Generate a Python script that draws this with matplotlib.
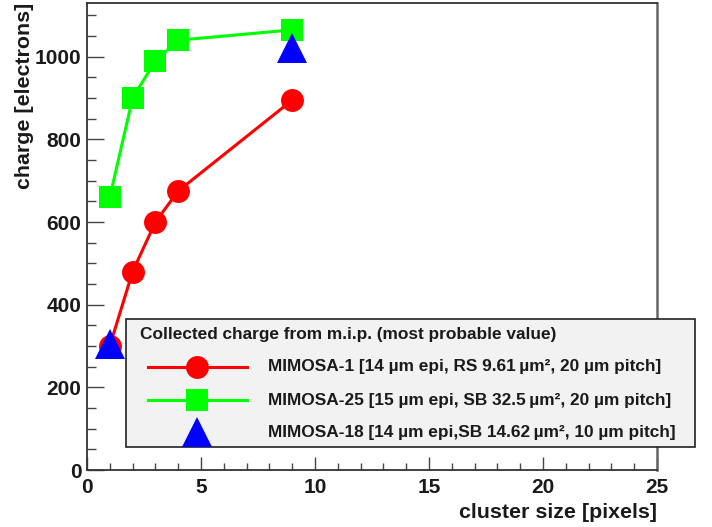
import matplotlib.pyplot as plt
from matplotlib.lines import Line2D
from matplotlib.patches import Rectangle
from matplotlib.ticker import MultipleLocator

plt.rcParams['font.family'] = ['Liberation Sans', 'DejaVu Sans']
plt.rcParams['font.weight'] = 'bold'

W, H = 712, 527

# cluster size [pixels] vs collected charge [electrons]
m1_x = [1, 2, 3, 4, 9]
m1_y = [300, 480, 600, 675, 895]
m25_x = [1, 2, 3, 4, 9]
m25_y = [660, 900, 990, 1040, 1065]
m18_x = [1, 9]
m18_y = [305, 1020]

legend_title = "Collected charge from m.i.p. (most probable value)"
labels = [
    "MIMOSA-1 [14 \u00b5m epi, RS 9.61\u2009\u00b5m\u00b2, 20 \u00b5m pitch]",
    "MIMOSA-25 [15 \u00b5m epi, SB 32.5\u2009\u00b5m\u00b2, 20 \u00b5m pitch]",
    "MIMOSA-18 [14 \u00b5m epi,SB 14.62\u2009\u00b5m\u00b2, 10 \u00b5m pitch]",
]

styles = [
    dict(color="#ff0000", marker="o", markersize=16.5, linestyle="-", linewidth=2.2),
    dict(color="#00ff00", marker="s", markersize=16, linestyle="-", linewidth=2.2),
    dict(color="#0000ff", marker="^", markersize=21, linestyle="none", linewidth=2.2),
]

def px(x, y):
    return x / W, 1 - y / H

fig = plt.figure(figsize=(W / 100, H / 100), dpi=100)
ax = fig.add_axes([87 / W, 1 - 470 / H, 570 / W, 467 / H])

for (xs, ys), st in zip([(m1_x, m1_y), (m25_x, m25_y), (m18_x, m18_y)], styles):
    ax.plot(xs, ys, markeredgewidth=0, clip_on=False, **st)

ax.set_xlim(0, 25)
ax.set_ylim(0, 1130)
ax.xaxis.set_major_locator(MultipleLocator(5))
ax.xaxis.set_minor_locator(MultipleLocator(1))
ax.yaxis.set_major_locator(MultipleLocator(200))
ax.yaxis.set_minor_locator(MultipleLocator(50))

ax.tick_params(axis="y", which="major", direction="in", length=12, width=1, color="#444444",
               labelsize=15, pad=4, labelcolor="#1a1a1a")
ax.tick_params(axis="y", which="minor", direction="in", length=6.5, width=1, color="#444444")
ax.tick_params(axis="x", which="major", direction="in", length=9.5, width=1, color="#444444",
               labelsize=15, pad=6, labelcolor="#1a1a1a")
ax.tick_params(axis="x", which="minor", direction="in", length=5, width=1, color="#444444")
for sp in ax.spines.values():
    sp.set_color("#333333")
    sp.set_linewidth(1.3)
ax.spines["right"].set_color("#666666")
ax.spines["right"].set_linewidth(1.8)

fig.text(*px(25, 3), "charge [electrons]", rotation=90, ha="center", va="top",
         fontsize=15.4, color="#1a1a1a")
fig.text(*px(657, 518), "cluster size [pixels]", ha="right", va="baseline",
         fontsize=15.4, color="#1a1a1a")

# legend box drawn in figure pixels
x0, y0 = px(126, 447)
x1, y1 = px(695, 319)
fig.add_artist(Rectangle((x0, y0), x1 - x0, y1 - y0, transform=fig.transFigure,
                         facecolor="#f2f2f2", edgecolor="#222222", linewidth=1.2, zorder=5))
fig.text(*px(140, 334), legend_title, ha="left", va="center", fontsize=12.4,
         color="#1a1a1a", zorder=6)
rows = [367, 400, 432]
for lab, st, ry in zip(labels, styles, rows):
    lx0, ly = px(148, ry)
    lx1, _ = px(247, ry)
    mx, _ = px(197, ry)
    if st["linestyle"] != "none":
        fig.add_artist(Line2D([lx0, lx1], [ly, ly], transform=fig.transFigure,
                              color=st["color"], linewidth=st["linewidth"], zorder=6))
    fig.add_artist(Line2D([mx], [ly], transform=fig.transFigure, color=st["color"],
                          marker=st["marker"], markersize=st["markersize"],
                          markeredgewidth=0, linestyle="none", zorder=7))
    fig.text(*px(268, ry), lab, ha="left", va="center", fontsize=12.4,
             color="#1a1a1a", zorder=6)

fig.savefig("out.png", dpi=100)
